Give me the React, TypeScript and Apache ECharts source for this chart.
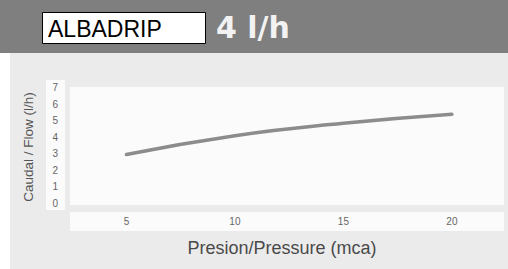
import React, { useEffect, useRef } from "react";
import * as echarts from "echarts";

const pressure = [5, 10, 15, 20];
const flow = [2.95, 4.1, 4.85, 5.4];
const xTicks = [5, 10, 15, 20];
const yTicks = [0, 1, 2, 3, 4, 5, 6, 7];
const brand = "ALBADRIP";
const subtitle = "4 l/h";
const xName = "Presion/Pressure (mca)";
const yName = "Caudal / Flow (l/h)";

export default function App() {
  const ref = useRef<HTMLDivElement>(null);
  useEffect(() => {
    document.body.style.margin = "0";
    const chart = echarts.init(ref.current!, undefined, { renderer: "svg" });
    chart.setOption({
      animation: false,
      backgroundColor: "#ffffff",
      textStyle: { fontFamily: "Liberation Sans, Arial, sans-serif" },
      grid: {
        left: 70,
        right: 4,
        top: 87,
        bottom: 64,
        show: true,
        backgroundColor: "#fbfbfb",
        borderWidth: 0,
        z: 1,
      },
      graphic: [
        { type: "rect", z: -10, silent: true, shape: { x: 0, y: 0, width: 508, height: 53 }, style: { fill: "#7f7f7f" } },
        { type: "rect", z: -10, silent: true, shape: { x: 10, y: 53, width: 498, height: 216 }, style: { fill: "#ebebeb" } },
        { type: "rect", z: -5, silent: true, shape: { x: 46, y: 80, width: 19, height: 130 }, style: { fill: "#fbfbfb" } },
        { type: "rect", z: -5, silent: true, shape: { x: 70, y: 212, width: 434, height: 19 }, style: { fill: "#fbfbfb" } },
        { type: "rect", z: 5, silent: true, shape: { x: 42.5, y: 12.5, width: 163, height: 31 }, style: { fill: "#ffffff", stroke: "#000000", lineWidth: 1 } },
        {
          type: "text", z: 6, x: 48, y: 28.5,
          style: { text: brand, fill: "#000000", font: "23px 'Liberation Sans', Arial, sans-serif", textVerticalAlign: "middle", verticalAlign: "middle" },
        },
        {
          type: "text", z: 6, x: 216, y: 27,
          style: { text: subtitle, fill: "#f2f2f2", font: "bold 30px 'DejaVu Sans', sans-serif", textVerticalAlign: "middle", verticalAlign: "middle" },
        },
        {
          type: "text", z: 6, x: 282, y: 248,
          style: { text: xName, fill: "#4a4a4a", font: "18px 'Liberation Sans', Arial, sans-serif", align: "center", verticalAlign: "middle" },
        },
        {
          type: "text", z: 6, x: 28, y: 147, rotation: Math.PI / 2,
          style: { text: yName, fill: "#555555", font: "13.5px 'Liberation Sans', Arial, sans-serif", align: "center", verticalAlign: "middle" },
        },
      ],
      xAxis: {
        type: "value",
        min: 2.4,
        max: 22.4,
        axisLine: { show: false },
        axisTick: { show: false },
        splitLine: { show: false },
        axisLabel: {
          customValues: xTicks,
          margin: 11,
          fontSize: 10,
          color: "#666666",
        },
      },
      yAxis: {
        type: "value",
        min: -0.12,
        max: 7.06,
        axisLine: { show: false },
        axisTick: { show: false },
        splitLine: { show: false },
        axisLabel: {
          customValues: yTicks,
          margin: 12,
          fontSize: 10,
          color: "#666666",
        },
      },
      series: [
        {
          type: "line",
          data: pressure.map((p, i) => [p, flow[i]]),
          smooth: true,
          symbol: "none",
          lineStyle: { color: "#8c8c8c", width: 3.5, cap: "round" },
          z: 3,
        },
      ],
    });
    return () => chart.dispose();
  }, []);
  return <div ref={ref} style={{ width: 508, height: 269, position: "absolute", left: 0, top: 0 }} />;
}
